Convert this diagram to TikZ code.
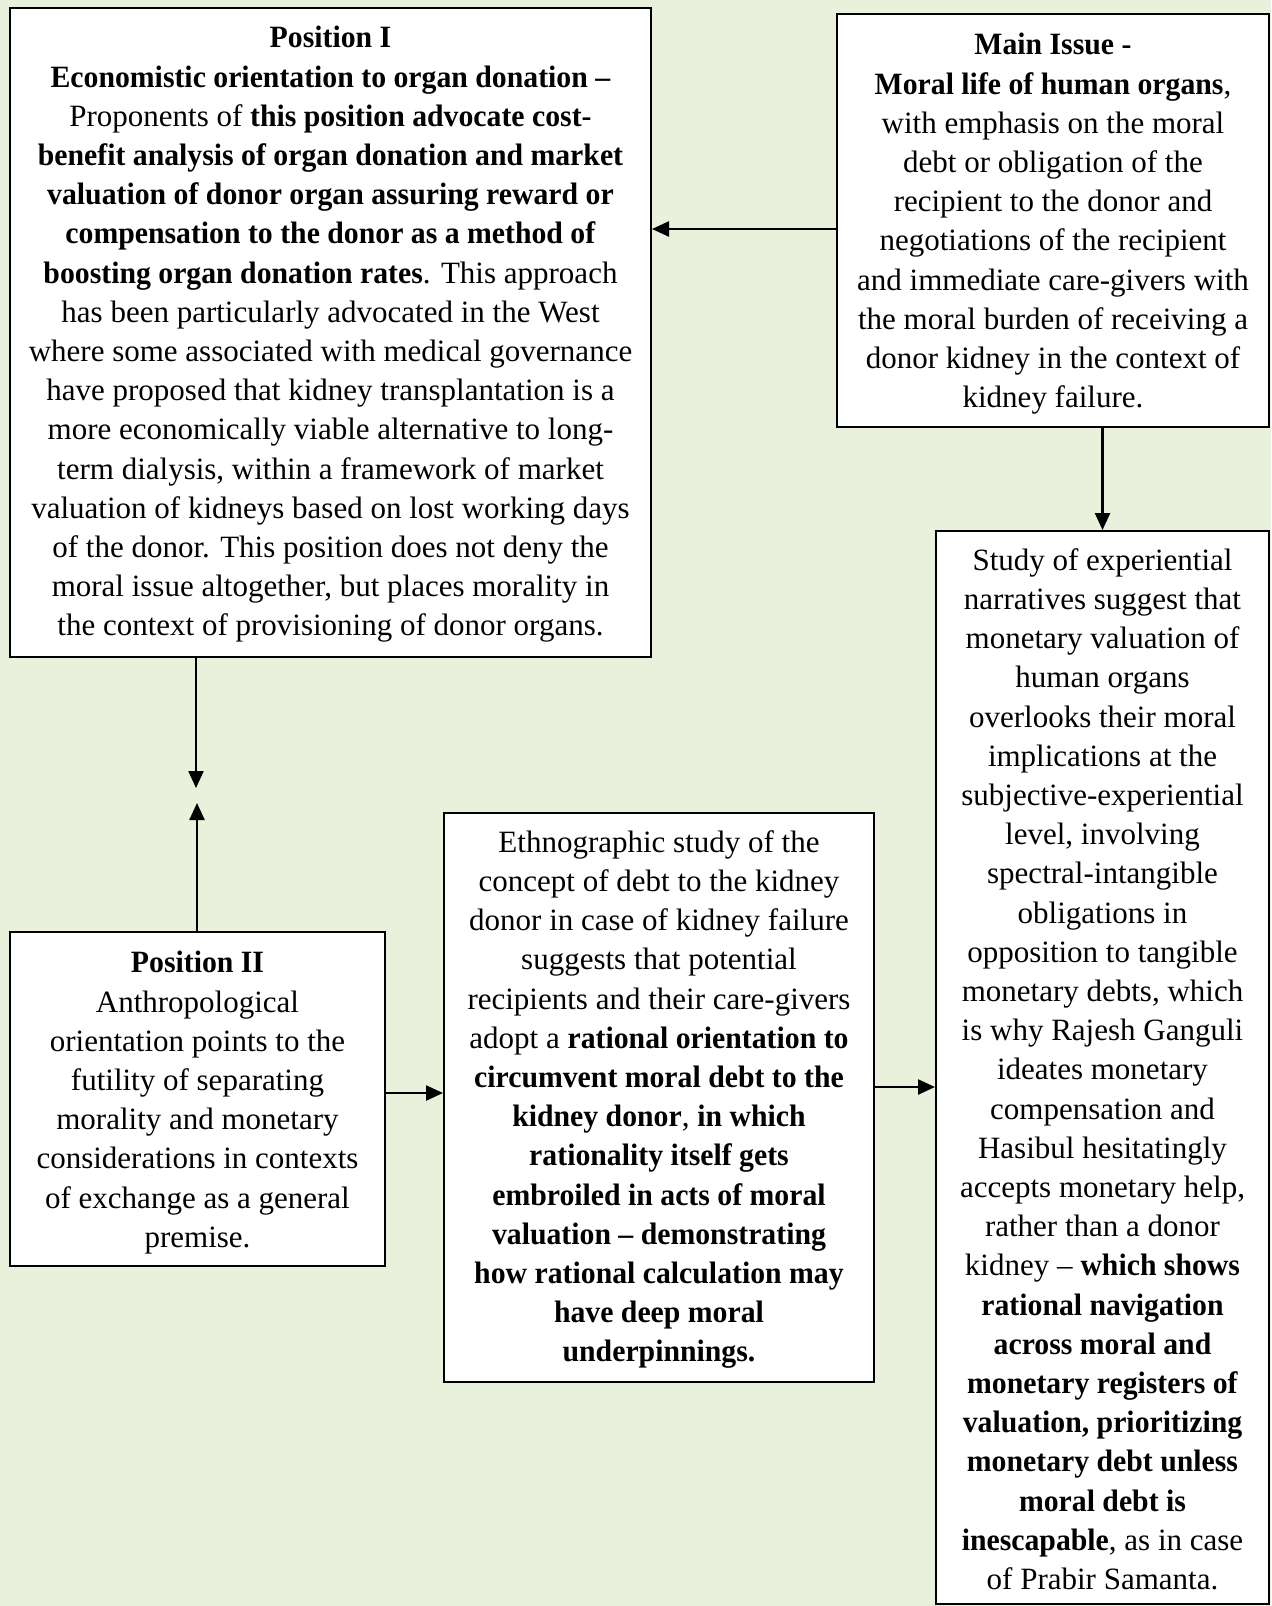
\documentclass[tikz,border=0pt]{standalone}
\usepackage{fontspec}
\setmainfont{Liberation Serif}[BoldFeatures={FakeStretch=0.96}]
\usetikzlibrary{fit,arrows.meta,calc}
\definecolor{bgc}{RGB}{233,240,219}
\begin{document}
\begin{tikzpicture}[x=0.5pt,y=-0.5pt,
  box/.style={draw=black, line width=1pt, fill=white, inner sep=0pt},
  txt/.style={align=center, anchor=north, inner sep=0pt, font=\fontsize{15.5}{19.6}\selectfont},
  arr/.style={line width=1.2pt, -{Triangle[length=8.5pt,width=7.5pt]}}]
\useasboundingbox (0,0) rectangle (1271,1606);
\fill[bgc] (0,0) rectangle (1271,1606);
\node[box, fit={(10,8) (651,657)}] (p1) {};
\node[box, fit={(837,14) (1269,427)}] (mi) {};
\node[box, fit={(936,531) (1269,1604)}] (rb) {};
\node[box, fit={(10,932) (385,1266)}] (p2) {};
\node[box, fit={(444,813) (874,1382)}] (mb) {};

\node[txt] (p1t) at ($(p1.north)+(0,19)$) {\textbf{Position I}\\
\textbf{Economistic orientation to organ donation –}\\
Proponents of \textbf{this position advocate cost-}\\
\textbf{benefit analysis of organ donation and market}\\
\textbf{valuation of donor organ assuring reward or}\\
\textbf{compensation to the donor as a method of}\\
\textbf{boosting organ donation rates}. This approach\\
has been particularly advocated in the West\\
where some associated with medical governance\\
have proposed that kidney transplantation is a\\
more economically viable alternative to long-\\
term dialysis, within a framework of market\\
valuation of kidneys based on lost working days\\
of the donor. This position does not deny the\\
moral issue altogether, but places morality in\\
the context of provisioning of donor organs.};

\node[txt] (mit) at ($(mi.north)+(0,20)$) {\textbf{Main Issue -}\\
\textbf{Moral life of human organs},\\
with emphasis on the moral\\
debt or obligation of the\\
recipient to the donor and\\
negotiations of the recipient\\
and immediate care-givers with\\
the moral burden of receiving a\\
donor kidney in the context of\\
kidney failure.};

\node[txt] (rbt) at ($(rb.north)+(0,18)$) {Study of experiential\\
narratives suggest that\\
monetary valuation of\\
human organs\\
overlooks their moral\\
implications at the\\
subjective-experiential\\
level, involving\\
spectral-intangible\\
obligations in\\
opposition to tangible\\
monetary debts, which\\
is why Rajesh Ganguli\\
ideates monetary\\
compensation and\\
Hasibul hesitatingly\\
accepts monetary help,\\
rather than a donor\\
kidney – \textbf{which shows}\\
\textbf{rational navigation}\\
\textbf{across moral and}\\
\textbf{monetary registers of}\\
\textbf{valuation, prioritizing}\\
\textbf{monetary debt unless}\\
\textbf{moral debt is}\\
\textbf{inescapable}, as in case\\
of Prabir Samanta.};

\node[txt] (p2t) at ($(p2.north)+(0,20)$) {\textbf{Position II}\\
Anthropological\\
orientation points to the\\
futility of separating\\
morality and monetary\\
considerations in contexts\\
of exchange as a general\\
premise.};

\node[txt] (mbt) at ($(mb.north)+(0,18)$) {Ethnographic study of the\\
concept of debt to the kidney\\
donor in case of kidney failure\\
suggests that potential\\
recipients and their care-givers\\
adopt a \textbf{rational orientation to}\\
\textbf{circumvent moral debt to the}\\
\textbf{kidney donor}, \textbf{in which}\\
\textbf{rationality itself gets}\\
\textbf{embroiled in acts of moral}\\
\textbf{valuation – demonstrating}\\
\textbf{how rational calculation may}\\
\textbf{have deep moral}\\
\textbf{underpinnings.}};

\coordinate (a1) at (0,229);
\draw[arr] (mi.west |- a1) -- (p1.east |- a1);
\draw[arr] (mi.south -| rb.north) -- (rb.north);
\coordinate (m1) at (196,788);
\coordinate (m2) at (197,803);
\draw[arr] (p1.south -| m1) -- (m1);
\draw[arr] (p2.north -| m2) -- (m2);
\coordinate (a4) at (0,1093);
\draw[arr] (p2.east |- a4) -- (mb.west |- a4);
\coordinate (a5) at (0,1087);
\draw[arr] (mb.east |- a5) -- (rb.west |- a5);
\end{tikzpicture}
\end{document}
